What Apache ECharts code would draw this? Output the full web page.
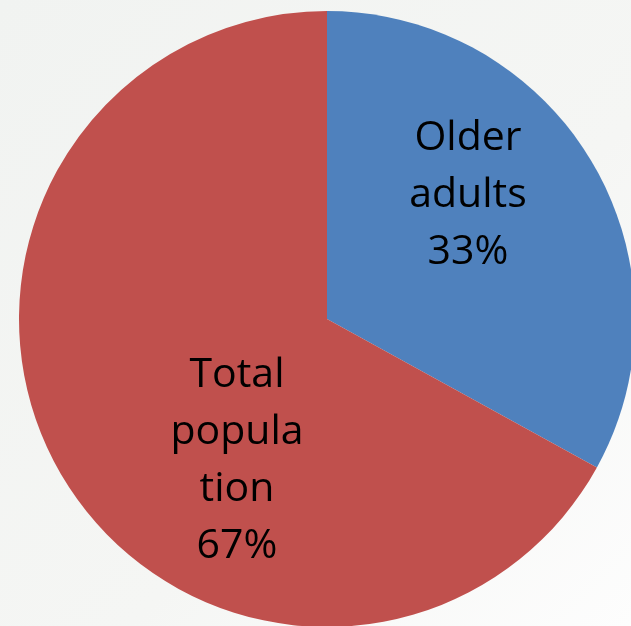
<!DOCTYPE html>
<html>
<head>
<meta charset="utf-8">
<script src="https://cdn.jsdelivr.net/npm/echarts@6/dist/echarts.min.js"></script>
<style>
  html, body { margin: 0; padding: 0; }
  #chart { width: 631px; height: 626px; }
</style>
</head>
<body>
<div id="chart"></div>
<script>
// Share of people: older adults vs. the rest of the population
const categories = ['Older adults', 'Total population'];
const shares = [33, 67];
// Wrapped text shown inside each slice
const labelLines = [
  ['Older', 'adults'],
  ['Total', 'popula', 'tion']
];

const sliceColors = ['#4F81BD', '#C0504D'];
// Where each slice label sits, relative to the pie centre (px)
const labelOffsets = [[141, -124], [-90, 142]];

const chart = echarts.init(document.getElementById('chart'));
const CX = 327, CY = 319, R = 308;

chart.setOption({
  backgroundColor: {
    type: 'linear', x: 0, y: 0, x2: 1, y2: 1,
    colorStops: [
      { offset: 0, color: '#f1f3f1' },
      { offset: 0.6, color: '#f5f6f4' },
      { offset: 1, color: '#fdfdfd' }
    ]
  },
  animation: false,
  series: [{
    type: 'pie',
    center: [CX, CY],
    radius: [0, R],
    startAngle: 90,
    clockwise: true,
    silent: true,
    itemStyle: { borderWidth: 0 },
    label: {
      show: true,
      position: 'inside',
      color: '#000000',
      fontFamily: 'Open Sans',
      fontSize: 41,
      lineHeight: 57,
      align: 'center',
      verticalAlign: 'middle',
      formatter: function (p) {
        return labelLines[p.dataIndex].join('\n') + '\n' + p.value + '%';
      }
    },
    labelLine: { show: false },
    labelLayout: function (params) {
      const o = labelOffsets[params.dataIndex];
      return { x: CX + o[0], y: CY + o[1], align: 'center', verticalAlign: 'middle' };
    },
    data: categories.map(function (name, i) {
      return { name: name, value: shares[i], itemStyle: { color: sliceColors[i] } };
    })
  }]
});
</script>
</body>
</html>
